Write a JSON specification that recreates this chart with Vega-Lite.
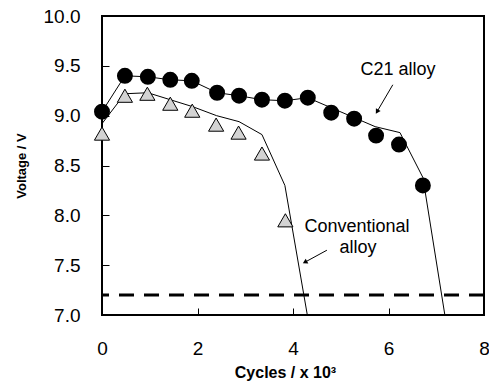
{
  "$schema": "https://vega.github.io/schema/vega-lite/v6.json",
  "width": 382,
  "height": 299,
  "autosize": {"type": "none"},
  "padding": {"left": 102, "top": 16, "right": 5, "bottom": 71},
  "background": "white",
  "config": {
    "font": "Liberation Sans",
    "view": {"stroke": "black", "strokeWidth": 2},
    "axis": {
      "grid": false, "domain": false, "ticks": true, "tickColor": "black", "tickSize": -7, "tickWidth": 1,
      "labelFont": "Liberation Sans", "labelFontSize": 19, "labelColor": "black", "labelFlush": false,
      "titleFont": "Liberation Sans", "titleFontWeight": "bold", "titleColor": "black"
    }
  },
  "datasets": {
    "markers": [
      {"alloy": "C21 alloy", "cycles": 0.0, "voltage": 9.04},
      {"alloy": "C21 alloy", "cycles": 0.48, "voltage": 9.40},
      {"alloy": "C21 alloy", "cycles": 0.96, "voltage": 9.39},
      {"alloy": "C21 alloy", "cycles": 1.43, "voltage": 9.36},
      {"alloy": "C21 alloy", "cycles": 1.88, "voltage": 9.35},
      {"alloy": "C21 alloy", "cycles": 2.41, "voltage": 9.23},
      {"alloy": "C21 alloy", "cycles": 2.87, "voltage": 9.20},
      {"alloy": "C21 alloy", "cycles": 3.35, "voltage": 9.16},
      {"alloy": "C21 alloy", "cycles": 3.83, "voltage": 9.15},
      {"alloy": "C21 alloy", "cycles": 4.31, "voltage": 9.18},
      {"alloy": "C21 alloy", "cycles": 4.80, "voltage": 9.03},
      {"alloy": "C21 alloy", "cycles": 5.28, "voltage": 8.97},
      {"alloy": "C21 alloy", "cycles": 5.74, "voltage": 8.80},
      {"alloy": "C21 alloy", "cycles": 6.22, "voltage": 8.71},
      {"alloy": "C21 alloy", "cycles": 6.72, "voltage": 8.30},
      {"alloy": "Conventional alloy", "cycles": 0.0, "voltage": 8.82},
      {"alloy": "Conventional alloy", "cycles": 0.48, "voltage": 9.20},
      {"alloy": "Conventional alloy", "cycles": 0.95, "voltage": 9.22},
      {"alloy": "Conventional alloy", "cycles": 1.43, "voltage": 9.12},
      {"alloy": "Conventional alloy", "cycles": 1.89, "voltage": 9.05},
      {"alloy": "Conventional alloy", "cycles": 2.39, "voltage": 8.91},
      {"alloy": "Conventional alloy", "cycles": 2.86, "voltage": 8.83},
      {"alloy": "Conventional alloy", "cycles": 3.35, "voltage": 8.62},
      {"alloy": "Conventional alloy", "cycles": 3.84, "voltage": 7.95}
    ],
    "lines": [
      {"alloy": "C21 alloy", "seq": 1, "cycles": 0.0, "voltage": 9.04},
      {"alloy": "C21 alloy", "seq": 2, "cycles": 0.48, "voltage": 9.40},
      {"alloy": "C21 alloy", "seq": 3, "cycles": 0.96, "voltage": 9.39},
      {"alloy": "C21 alloy", "seq": 4, "cycles": 1.43, "voltage": 9.36},
      {"alloy": "C21 alloy", "seq": 5, "cycles": 1.88, "voltage": 9.35},
      {"alloy": "C21 alloy", "seq": 6, "cycles": 2.41, "voltage": 9.23},
      {"alloy": "C21 alloy", "seq": 7, "cycles": 2.87, "voltage": 9.20},
      {"alloy": "C21 alloy", "seq": 8, "cycles": 3.35, "voltage": 9.16},
      {"alloy": "C21 alloy", "seq": 9, "cycles": 3.83, "voltage": 9.15},
      {"alloy": "C21 alloy", "seq": 10, "cycles": 4.31, "voltage": 9.18},
      {"alloy": "C21 alloy", "seq": 11, "cycles": 5.72, "voltage": 8.89},
      {"alloy": "C21 alloy", "seq": 12, "cycles": 6.24, "voltage": 8.83},
      {"alloy": "C21 alloy", "seq": 13, "cycles": 6.72, "voltage": 8.38},
      {"alloy": "C21 alloy", "seq": 14, "cycles": 7.18, "voltage": 7.0},
      {"alloy": "Conventional alloy", "seq": 1, "cycles": 0.0, "voltage": 8.92},
      {"alloy": "Conventional alloy", "seq": 2, "cycles": 0.48, "voltage": 9.22},
      {"alloy": "Conventional alloy", "seq": 3, "cycles": 0.96, "voltage": 9.23},
      {"alloy": "Conventional alloy", "seq": 4, "cycles": 1.43, "voltage": 9.16},
      {"alloy": "Conventional alloy", "seq": 5, "cycles": 1.9, "voltage": 9.09},
      {"alloy": "Conventional alloy", "seq": 6, "cycles": 2.4, "voltage": 9.0},
      {"alloy": "Conventional alloy", "seq": 7, "cycles": 2.87, "voltage": 8.94},
      {"alloy": "Conventional alloy", "seq": 8, "cycles": 3.35, "voltage": 8.81},
      {"alloy": "Conventional alloy", "seq": 9, "cycles": 3.83, "voltage": 8.30},
      {"alloy": "Conventional alloy", "seq": 10, "cycles": 4.3, "voltage": 7.0}
    ],
    "arrows": [
      {"alloy": "C21 alloy", "x0": 6.09, "y0": 9.31, "x1": 5.76, "y1": 9.04},
      {"alloy": "Conventional alloy", "x0": 4.71, "y0": 7.65, "x1": 4.25, "y1": 7.53}
    ],
    "labels": [
      {"text": "C21 alloy", "cycles": 6.2, "voltage": 9.46},
      {"text": "Conventional", "cycles": 5.34, "voltage": 7.88},
      {"text": "alloy", "cycles": 5.36, "voltage": 7.67}
    ]
  },
  "layer": [
    {
      "data": {"values": [{"limit": 7.2}]},
      "mark": {"type": "rule", "color": "black", "strokeWidth": 3, "strokeDash": [15, 10]},
      "encoding": {
        "y": {"field": "limit", "type": "quantitative", "scale": {"domain": [7, 10], "nice": false, "zero": false},
          "axis": {"title": "Voltage / V", "titleFontSize": 13, "values": [7, 7.5, 8, 8.5, 9, 9.5, 10], "format": ".1f", "labelPadding": 29, "titlePadding": 15}}
      }
    },
    {
      "data": {"name": "lines"},
      "mark": {"type": "line", "color": "black", "strokeWidth": 1, "clip": true},
      "encoding": {
        "x": {"field": "cycles", "type": "quantitative", "scale": {"domain": [0, 8], "nice": false},
          "axis": {"title": "Cycles / x 10³", "titleFontSize": 16, "titleX": 183, "values": [0, 2, 4, 6, 8], "format": "d", "labelPadding": 31, "titlePadding": 6}},
        "y": {"field": "voltage", "type": "quantitative"},
        "detail": {"field": "alloy"},
        "order": {"field": "seq", "type": "quantitative"}
      }
    },
    {
      "data": {"name": "markers"},
      "transform": [{"filter": "datum.alloy === 'Conventional alloy'"}],
      "mark": {"type": "point", "shape": "triangle-up", "filled": true, "fill": "#d3d3d3", "stroke": "black", "strokeWidth": 1, "size": 230, "opacity": 1},
      "encoding": {
        "x": {"field": "cycles", "type": "quantitative"},
        "y": {"field": "voltage", "type": "quantitative"}
      }
    },
    {
      "data": {"name": "markers"},
      "transform": [{"filter": "datum.alloy === 'C21 alloy'"}],
      "mark": {"type": "circle", "color": "black", "size": 254, "opacity": 1},
      "encoding": {
        "x": {"field": "cycles", "type": "quantitative"},
        "y": {"field": "voltage", "type": "quantitative"}
      }
    },
    {
      "data": {"name": "arrows"},
      "mark": {"type": "rule", "color": "black", "strokeWidth": 1},
      "encoding": {
        "x": {"field": "x0", "type": "quantitative"},
        "y": {"field": "y0", "type": "quantitative"},
        "x2": {"field": "x1"},
        "y2": {"field": "y1"}
      }
    },
    {
      "data": {"name": "arrows"},
      "transform": [{"filter": "datum.alloy === 'C21 alloy'"}],
      "mark": {"type": "point", "shape": "triangle-up", "filled": true, "color": "black", "size": 30, "angle": 211, "opacity": 1},
      "encoding": {
        "x": {"field": "x1", "type": "quantitative"},
        "y": {"field": "y1", "type": "quantitative"}
      }
    },
    {
      "data": {"name": "arrows"},
      "transform": [{"filter": "datum.alloy === 'Conventional alloy'"}],
      "mark": {"type": "point", "shape": "triangle-up", "filled": true, "color": "black", "size": 30, "angle": 241, "opacity": 1},
      "encoding": {
        "x": {"field": "x1", "type": "quantitative"},
        "y": {"field": "y1", "type": "quantitative"}
      }
    },
    {
      "data": {"name": "labels"},
      "mark": {"type": "text", "font": "Liberation Sans", "fontSize": 18, "color": "black", "align": "center", "baseline": "middle"},
      "encoding": {
        "x": {"field": "cycles", "type": "quantitative"},
        "y": {"field": "voltage", "type": "quantitative"},
        "text": {"field": "text"}
      }
    }
  ]
}
